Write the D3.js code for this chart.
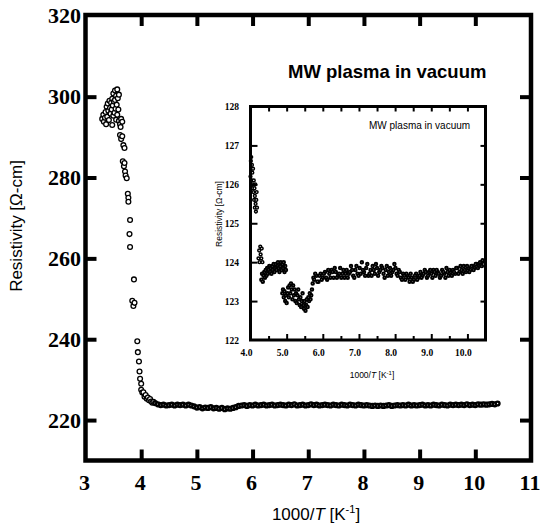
<!DOCTYPE html>
<html>
<meta charset="utf-8">
<script src="https://cdn.jsdelivr.net/npm/d3@7"></script>
<title>Resistivity vs 1000/T</title>
<style>
body { margin: 0; background: #fff; }
</style>
<body>
<script type="text/javascript">

// ---- data ----
// main plot: [1000/T, resistivity]
var mainHighT = [
    [3.30,294.5],[3.32,295.5],[3.33,293.8],[3.35,294.8],[3.36,296.2],[3.37,293.2],[3.38,297.5],
    [3.39,295.0],[3.40,298.3],[3.41,296.5],[3.42,294.2],[3.43,299.0],[3.44,297.2],[3.45,295.8],
    [3.46,298.5],[3.47,296.8],[3.48,299.5],[3.48,293.0],[3.49,297.8],[3.50,300.8],[3.50,295.3],
    [3.51,298.8],[3.52,296.0],[3.53,301.5],[3.53,299.2],[3.54,297.0],[3.55,300.2],[3.55,294.3],
    [3.56,298.0],[3.57,301.8],[3.57,295.5],[3.58,299.6],[3.59,296.8],[3.60,294.0],[3.60,300.5],
    [3.62,293.2],[3.63,292.5],[3.64,294.5],[3.66,293.8],[3.62,290.5],[3.64,289.5],[3.66,290.2],
    [3.68,288.0],[3.70,287.3]
];
var mainDrop = [
    [3.67,284.0],[3.69,282.8],[3.70,283.6],[3.71,281.5],[3.72,280.5],[3.74,279.8],[3.76,276.0],
    [3.77,275.0],[3.77,274.0],[3.80,269.5],[3.79,266.0],[3.80,262.8],[3.87,254.8],[3.84,249.5],
    [3.86,248.2],[3.88,249.0],[3.93,239.5],[3.94,236.8],[3.96,234.5],[3.97,232.0],[3.98,230.2],
    [4.00,229.0],[4.00,227.5],[4.02,226.8],[4.04,226.9],[4.06,225.8],[4.08,226.2],[4.10,225.3],
    [4.12,225.6],[4.14,224.9],[4.16,225.2],[4.18,224.6],[4.20,224.3],[4.22,224.5]
];
var mainFlat = [
    [4.25,224.2],[4.30,223.9],[4.35,223.7],[4.40,223.8],[4.45,223.6],[4.50,223.7],[4.55,223.8],
    [4.60,223.6],[4.65,223.8],[4.70,223.7],[4.75,223.8],[4.80,223.6],[4.85,223.8],[4.90,223.6],
    [4.95,223.4],[5.00,223.1],[5.05,223.2],[5.10,222.9],[5.15,223.1],[5.20,223.0],[5.25,223.2],
    [5.30,222.9],[5.35,223.0],[5.40,222.8],[5.45,223.0],[5.50,222.7],[5.55,222.9],[5.60,222.8],
    [5.65,223.0],[5.70,223.2],[5.75,223.5],[5.80,223.6],[5.85,223.7],[5.90,223.5],[5.95,223.7],
    [6.00,223.6],[6.05,223.8],[6.10,223.6],[6.15,223.7],[6.20,223.8],[6.25,223.6],[6.30,223.7],
    [6.35,223.8],[6.40,223.6],[6.45,223.7],[6.50,223.8],[6.55,223.7],[6.60,223.6],[6.65,223.8],
    [6.70,223.7],[6.75,223.9],[6.80,223.6],[6.85,223.7],[6.90,223.8],[6.95,223.6],[7.00,223.7],
    [7.05,223.9],[7.10,223.7],[7.15,223.8],[7.20,223.6],[7.25,223.7],[7.30,223.8],[7.35,223.7],
    [7.40,223.6],[7.45,223.8],[7.50,223.7],[7.55,223.6],[7.60,223.8],[7.65,223.7],[7.70,223.6],
    [7.75,223.8],[7.80,223.7],[7.85,223.6],[7.90,223.8],[7.95,223.7],[8.00,223.6],[8.05,223.7],
    [8.10,223.6],[8.15,223.5],[8.20,223.6],[8.25,223.5],[8.30,223.6],[8.35,223.5],[8.40,223.6],
    [8.45,223.7],[8.50,223.5],[8.55,223.6],[8.60,223.7],[8.65,223.6],[8.70,223.7],[8.75,223.6],
    [8.80,223.8],[8.85,223.6],[8.90,223.7],[8.95,223.6],[9.00,223.7],[9.05,223.8],[9.10,223.6],
    [9.15,223.7],[9.20,223.6],[9.25,223.8],[9.30,223.7],[9.35,223.6],[9.40,223.8],[9.45,223.7],
    [9.50,223.6],[9.55,223.8],[9.60,223.7],[9.65,223.8],[9.70,223.7],[9.75,223.8],[9.80,223.7],
    [9.85,223.9],[9.90,223.7],[9.95,223.8],[10.00,223.7],[10.05,223.9],[10.10,223.8],[10.15,223.9],
    [10.20,223.8],[10.25,223.9],[10.30,224.0],[10.35,223.9],[10.40,224.1]
];

// inset plot: [1000/T, resistivity]
var insetStart = [
    [4.00,126.2],[4.01,126.6],[4.02,126.4],[4.02,126.7],[4.03,126.1],[4.04,126.5],[4.05,125.9],
    [4.05,126.3],[4.06,126.0],[4.07,126.4],[4.08,125.8],[4.09,126.1],[4.10,125.6],[4.11,125.9],
    [4.12,125.4],[4.12,125.7],[4.13,126.0],[4.14,125.5],[4.15,125.3],[4.16,125.6],[4.17,125.8],
    [4.18,125.4],
    [4.22,124.1],[4.24,124.3],[4.25,124.0],[4.27,124.4],[4.28,124.2],[4.30,124.1],[4.31,124.35],
    [4.33,124.0]
];
var insetRise = [
    [4.30,123.55],[4.32,123.7],[4.34,123.5],[4.36,123.65],[4.38,123.75],[4.40,123.6],[4.42,123.8],
    [4.44,123.65],[4.46,123.85],[4.48,123.7],[4.50,123.8],[4.52,123.9],[4.54,123.75],[4.56,123.85],
    [4.58,123.7],[4.60,123.9],[4.62,123.8],[4.64,123.95],[4.66,123.75],[4.68,123.85],[4.70,123.95],
    [4.72,123.8],[4.74,123.9],[4.76,124.0],[4.78,123.85],[4.80,123.75],[4.82,123.9],[4.84,124.0],
    [4.86,123.8],[4.88,123.95],[4.90,123.85],[4.92,124.0],[4.94,123.75],[4.96,123.9],[4.98,123.8]
];
var insetDip = [
    [4.88,123.2],[4.90,123.3],[4.92,123.1],[4.94,123.25],[4.96,123.0],[4.98,123.15],[5.00,122.95],
    [5.02,123.2],[5.04,123.35],[5.06,123.1],[5.08,123.4],[5.10,123.2],[5.12,123.45],[5.14,123.3],
    [5.16,123.05],[5.18,123.4],[5.20,123.15],[5.22,123.3],[5.24,123.0],[5.26,123.2],[5.28,122.95],
    [5.30,123.15],[5.32,123.3],[5.34,123.05],[5.36,122.9],[5.38,123.1],[5.40,122.85],[5.42,123.0],
    [5.44,123.2],[5.46,122.9],[5.48,122.8],[5.50,123.0],[5.52,122.75],[5.54,122.9],[5.56,123.05],
    [5.58,122.85],[5.60,123.1],[5.62,123.0],[5.64,123.2],[5.66,123.05],[5.68,123.15],[5.70,123.3],
    [5.72,123.45],[5.74,123.6]
];
var insetFlat = [
    [5.76,123.55],[5.82,123.65],[5.88,123.5],[5.94,123.7],[6.00,123.6],[6.06,123.75],[6.12,123.55],
    [6.18,123.7],[6.24,123.8],[6.30,123.6],[6.36,123.75],[6.42,123.65],[6.48,123.85],[6.54,123.7],
    [6.60,123.6],[6.66,123.8],[6.72,123.7],[6.78,123.9],[6.84,123.65],[6.90,123.8],[6.96,123.7],
    [7.02,123.85],[7.08,124.0],[7.14,123.75],[7.20,123.85],[7.26,123.65],[7.32,123.8],[7.38,123.9],
    [7.44,123.7],[7.50,123.85],[7.56,123.75],[7.62,123.9],[7.68,123.7],[7.74,123.8],[7.80,123.65],
    [7.86,123.85],[7.92,123.75],[7.98,123.95],[8.04,123.7],[8.10,123.8],[8.16,123.6],[8.22,123.7],
    [8.28,123.55],[8.34,123.65],[8.40,123.5],[8.46,123.6],[8.52,123.55],[8.58,123.7],[8.64,123.6],
    [8.70,123.75],[8.76,123.65],[8.82,123.8],[8.88,123.6],[8.94,123.75],[9.00,123.7],[9.06,123.8],
    [9.12,123.65],[9.18,123.75],[9.24,123.6],[9.30,123.8],[9.36,123.7],[9.42,123.85],[9.48,123.65],
    [9.54,123.75],[9.60,123.8],[9.66,123.7],[9.72,123.85],[9.78,123.75],[9.84,123.8],[9.90,123.9],
    [9.96,123.75],[10.02,123.85],[10.08,123.8],[10.14,123.9],[10.20,123.85],[10.26,123.95],
    [10.32,123.9],[10.38,124.0],[10.42,124.05]
];
var insetFlatB = [
    [5.79,123.7],[5.85,123.5],[5.91,123.65],[5.97,123.55],[6.03,123.7],[6.09,123.6],[6.15,123.8],
    [6.21,123.6],[6.27,123.75],[6.33,123.85],[6.39,123.6],[6.45,123.7],[6.51,123.6],[6.57,123.8],
    [6.63,123.7],[6.69,123.6],[6.75,123.75],[6.81,123.8],[6.87,123.6],[6.93,123.9],[6.99,123.65],
    [7.05,123.7],[7.11,123.8],[7.17,123.65],[7.23,123.95],[7.29,123.7],[7.35,123.65],[7.41,123.8],
    [7.47,123.95],[7.53,123.65],[7.59,123.8],[7.65,123.85],[7.71,123.6],[7.77,123.9],[7.83,123.75],
    [7.89,123.65],[7.95,123.8],[8.01,123.85],[8.07,123.65],[8.13,123.75],[8.19,123.55],[8.25,123.65],
    [8.31,123.7],[8.37,123.6],[8.43,123.7],[8.49,123.5],[8.55,123.65],[8.61,123.55],[8.67,123.65],
    [8.73,123.6],[8.79,123.7],[8.85,123.75],[8.91,123.65],[8.97,123.8],[9.03,123.6],[9.09,123.75],
    [9.15,123.8],[9.21,123.7],[9.27,123.65],[9.33,123.75],[9.39,123.6],[9.45,123.75],[9.51,123.8],
    [9.57,123.65],[9.63,123.75],[9.69,123.85],[9.75,123.7],[9.81,123.9],[9.87,123.7],[9.93,123.8],
    [9.99,123.9],[10.05,123.75],[10.11,123.9],[10.17,123.8],[10.23,123.95],[10.29,123.85],
    [10.35,124.0],[10.40,123.9]
];

var mainXTicks = [3, 4, 5, 6, 7, 8, 9, 10, 11];
var mainYTicks = [220, 240, 260, 280, 300, 320];
var insetXTicks = [4, 5, 6, 7, 8, 9, 10];
var insetXMinor = [4.5, 5.5, 6.5, 7.5, 8.5, 9.5, 10.5];
var insetYTicks = [122, 123, 124, 125, 126, 127, 128];

var titleText = "MW plasma in vacuum";

// ---- drawing ----
var size = { width : 541, height : 524 };

var svg = d3.select("body")
    .append("svg")
    .attr("width", size.width)
    .attr("height", size.height);

var xScale = d3.scaleLinear().domain([3, 11]).range([85.5, 531]);
var yScale = d3.scaleLinear().domain([210, 320.2]).range([460.5, 15]);

var serif = "'Liberation Serif', 'Times New Roman', serif";
var sans = "'Liberation Sans', Arial, sans-serif";

var main = svg.append("g");

function drawPoints(g, pts, xs, ys, r, sw) {
    g.append("g")
        .selectAll("circle")
        .data(pts)
        .enter()
        .append("circle")
        .attr("cx", function(d) { return xs(d[0]); })
        .attr("cy", function(d) { return ys(d[1]); })
        .attr("r", r)
        .style("fill", "#fff")
        .style("stroke", "#000")
        .style("stroke-width", sw);
}

// main points
drawPoints(main, mainHighT.concat(mainDrop), xScale, yScale, 2.4, 1.3);
drawPoints(main, mainFlat, xScale, yScale, 1.9, 2.4);

// main axes: ticks inward on all sides
var tickLen = 11;
var xIn = d3.axisBottom(xScale).tickValues(mainXTicks.slice(1, -1)).tickSize(-tickLen).tickFormat("");
var xTop = d3.axisTop(xScale).tickValues(mainXTicks.slice(1, -1)).tickSize(-tickLen).tickFormat("");
var yIn = d3.axisLeft(yScale).tickValues(mainYTicks.slice(0, -1)).tickSize(-tickLen).tickFormat("");
var yRight = d3.axisRight(yScale).tickValues(mainYTicks.slice(0, -1)).tickSize(-tickLen).tickFormat("");

function styleAxis(g, w) {
    g.select(".domain").remove();
    g.selectAll("line").style("stroke", "#000").style("stroke-width", w);
}

main.append("g").attr("transform", "translate(0," + yScale.range()[0] + ")").call(xIn).call(styleAxis, 4);
main.append("g").attr("transform", "translate(0," + yScale.range()[1] + ")").call(xTop).call(styleAxis, 4);
main.append("g").attr("transform", "translate(" + xScale.range()[0] + ",0)").call(yIn).call(styleAxis, 4);
main.append("g").attr("transform", "translate(" + xScale.range()[1] + ",0)").call(yRight).call(styleAxis, 4);

main.append("rect")
    .attr("x", xScale.range()[0])
    .attr("y", yScale.range()[1])
    .attr("width", xScale.range()[1] - xScale.range()[0])
    .attr("height", yScale.range()[0] - yScale.range()[1])
    .style("fill", "none")
    .style("stroke", "#000")
    .style("stroke-width", 4.5);

// main tick labels
main.append("g")
    .selectAll("text")
    .data(mainXTicks)
    .enter()
    .append("text")
    .attr("x", function(d) { return xScale(d) - 1; })
    .attr("y", 490)
    .attr("text-anchor", "middle")
    .style("font", "bold 22px " + serif)
    .text(function(d) { return d; });

main.append("g")
    .selectAll("text")
    .data(mainYTicks)
    .enter()
    .append("text")
    .attr("x", 81)
    .attr("y", function(d) { return yScale(d) + 7.5; })
    .attr("text-anchor", "end")
    .style("font", "bold 22px " + serif)
    .text(function(d) { return d; });

// axis titles
var xl = main.append("text")
    .attr("x", 316)
    .attr("y", 520)
    .attr("text-anchor", "middle")
    .style("font", "17px " + sans);
xl.append("tspan").text("1000/");
xl.append("tspan").style("font-style", "italic").text("T");
xl.append("tspan").text(" [K");
xl.append("tspan").attr("dy", -7).style("font-size", "11px").text("-1");
xl.append("tspan").attr("dy", 7).text("]");

main.append("text")
    .attr("transform", "translate(22,226) rotate(-90)")
    .attr("text-anchor", "middle")
    .style("font", "17px " + sans)
    .text("Resistivity [\u03A9-cm]");

main.append("text")
    .attr("x", 288)
    .attr("y", 78)
    .style("font", "bold 18.5px " + sans)
    .text(titleText);

// ---- inset ----
var ixScale = d3.scaleLinear().domain([4, 10.5]).range([250.5, 485.5]);
var iyScale = d3.scaleLinear().domain([122, 128]).range([340, 106.5]);

var inset = svg.append("g");

inset.append("rect")
    .attr("x", ixScale.range()[0])
    .attr("y", iyScale.range()[1])
    .attr("width", ixScale.range()[1] - ixScale.range()[0])
    .attr("height", iyScale.range()[0] - iyScale.range()[1])
    .style("fill", "#fff");

drawPoints(inset, insetStart, ixScale, iyScale, 1.4, 1.5);
drawPoints(inset, insetRise.concat(insetDip).concat(insetFlat).concat(insetFlatB),
    ixScale, iyScale, 1.3, 1.9);

var ixB = d3.axisBottom(ixScale).tickValues(insetXTicks.slice(1)).tickSize(-6).tickFormat("");
var ixBm = d3.axisBottom(ixScale).tickValues(insetXMinor).tickSize(-4).tickFormat("");
var ixT = d3.axisTop(ixScale).tickValues(insetXTicks.slice(1).concat(insetXMinor)).tickSize(-5).tickFormat("");
var iyL = d3.axisLeft(iyScale).tickValues(insetYTicks.slice(1, -1)).tickSize(-7).tickFormat("");
var iyR = d3.axisRight(iyScale).tickValues(insetYTicks.slice(1, -1)).tickSize(-5).tickFormat("");

inset.append("g").attr("transform", "translate(0," + iyScale.range()[0] + ")").call(ixB).call(styleAxis, 2);
inset.append("g").attr("transform", "translate(0," + iyScale.range()[0] + ")").call(ixBm).call(styleAxis, 2);
inset.append("g").attr("transform", "translate(0," + iyScale.range()[1] + ")").call(ixT).call(styleAxis, 2);
inset.append("g").attr("transform", "translate(" + ixScale.range()[0] + ",0)").call(iyL).call(styleAxis, 2);
inset.append("g").attr("transform", "translate(" + ixScale.range()[1] + ",0)").call(iyR).call(styleAxis, 2);

inset.append("rect")
    .attr("x", ixScale.range()[0])
    .attr("y", iyScale.range()[1])
    .attr("width", ixScale.range()[1] - ixScale.range()[0])
    .attr("height", iyScale.range()[0] - iyScale.range()[1])
    .style("fill", "none")
    .style("stroke", "#000")
    .style("stroke-width", 3);

inset.append("g")
    .selectAll("text")
    .data(insetXTicks)
    .enter()
    .append("text")
    .attr("x", function(d) { return ixScale(d) - 4; })
    .attr("y", 356)
    .attr("text-anchor", "middle")
    .style("font", "bold 9.5px " + serif)
    .text(function(d) { return d.toFixed(1); });

inset.append("g")
    .selectAll("text")
    .data(insetYTicks)
    .enter()
    .append("text")
    .attr("x", 239)
    .attr("y", function(d) { return iyScale(d) + 3.5; })
    .attr("text-anchor", "end")
    .style("font", "bold 9.5px " + serif)
    .text(function(d) { return d; });

var ixl = inset.append("text")
    .attr("x", 372)
    .attr("y", 378)
    .attr("text-anchor", "middle")
    .style("font", "8.5px " + sans);
ixl.append("tspan").text("1000/");
ixl.append("tspan").style("font-style", "italic").text("T");
ixl.append("tspan").text(" [K");
ixl.append("tspan").attr("dy", -3.5).style("font-size", "6px").text("-1");
ixl.append("tspan").attr("dy", 3.5).text("]");

inset.append("text")
    .attr("transform", "translate(222,214) rotate(-90)")
    .attr("text-anchor", "middle")
    .style("font", "8.5px " + sans)
    .text("Resistivity [\u03A9-cm]");

inset.append("text")
    .attr("x", 369)
    .attr("y", 129)
    .style("font", "10px " + sans)
    .text(titleText);

</script>
</body>
</html>
